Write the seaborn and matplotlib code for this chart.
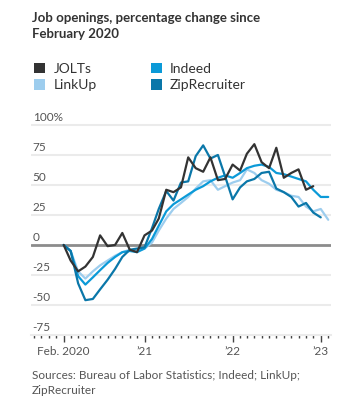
import pandas as pd
import matplotlib
matplotlib.use('Agg')
import matplotlib.pyplot as plt
import matplotlib.dates as mdates
from matplotlib.patches import Patch
import seaborn as sns

# 数据：相对于2020年2月的变化（%），按月
start_month = '2020-02-01'
jolts = [0, -13, -22, -18, -10, 8, -1, 0, 10, -4, -6, 8, 12, 22, 46, 44, 48, 73, 64, 61,
         73, 54, 55, 67, 62, 76, 84, 69, 64, 81, 56, 60, 63, 46, 49]
linkup = [0, -5, -22, -28, -22, -17, -13, -9, -6, -4, -5, -3, 2, 12, 22, 30, 35, 40, 47, 53,
          54, 46, 49, 52, 54, 63, 60, 54, 51, 46, 44, 41, 40, 32, 28, 30, 21]
indeed = [0, -5, -26, -33, -27, -21, -15, -10, -6, -5, -6, -3, 5, 16, 28, 34, 38, 42, 46, 49,
          53, 56, 58, 56, 60, 64, 66, 67, 65, 60, 59, 57, 55, 53, 46, 40, 40]
zip_rec = [0, -5, -32, -46, -45, -37, -29, -20, -10, -4, -3, -2, 14, 30, 45, 37, 52, 53, 74, 83,
           72, 75, 57, 38, 48, 53, 55, 60, 61, 47, 44, 40, 32, 35, 27, 23]

series_names = ['JOLTs', 'LinkUp', 'Indeed', 'ZipRecruiter']
series_values = [jolts, linkup, indeed, zip_rec]
colors = ['#333333', '#9dcdee', '#0b9ad8', '#0a77a9']

y_ticks = [100, 75, 50, 25, 0, -25, -50, -75]
y_labels = ['100%', '75', '50', '25', '0', '-25', '-50', '-75']
x_tick_dates = ['2020-02-01', '2021-01-01', '2022-01-01', '2023-01-01']
x_labels = ['Feb. 2020', '\u201921', '\u201922', '\u201923']

# 拼成长表
frames = []
for name, vals in zip(series_names, series_values):
    frames.append(pd.DataFrame({
        'date': pd.date_range(start_month, periods=len(vals), freq='MS'),
        'value': vals,
        'series': name,
    }))
df = pd.concat(frames, ignore_index=True)

sns.set_style('white')
plt.rcParams['font.family'] = ['Lato', 'DejaVu Sans']

fig = plt.figure(figsize=(3.53, 4.08), dpi=100)
ax = fig.add_axes([0.088, 0.179, 0.85, 0.5206])

# 网格线和零线
for t in y_ticks:
    if t == 0:
        ax.axhline(0, color='#8c8c8c', lw=2.0, zorder=1)
    elif t != -75:
        ax.axhline(t, color='#ebebeb', lw=1.5, zorder=0)

palette = dict(zip(series_names, colors))
draw_order = ['LinkUp', 'Indeed', 'ZipRecruiter', 'JOLTs']
sns.lineplot(data=df, x='date', y='value', hue='series', hue_order=draw_order,
             palette=palette, linewidth=1.6, legend=False, ax=ax, zorder=3)

ax.set_ylim(-75, 102)
ax.set_xlim(pd.Timestamp('2019-09-19'), pd.Timestamp('2023-02-13'))
ax.set_xlabel('')
ax.set_ylabel('')
for s in ['top', 'right', 'left']:
    ax.spines[s].set_visible(False)
ax.spines['bottom'].set_color('#ebebeb')
ax.spines['bottom'].set_linewidth(1.5)

# y轴标签放在网格线上方
ax.set_yticks([])
for t, lab in zip(y_ticks, y_labels):
    ax.text(0.005, t + 1.5, lab, transform=ax.get_yaxis_transform(),
            ha='left', va='bottom', fontsize=8.5, color='#555555')

# x轴刻度
ax.set_xticks(pd.to_datetime(x_tick_dates))
ax.set_xticklabels(x_labels)
ax.xaxis.set_minor_locator(mdates.MonthLocator())
ax.tick_params(axis='x', which='major', length=5, width=1, color='#444444',
               labelsize=8.5, labelcolor='#555555', pad=3, direction='out', bottom=True)
ax.tick_params(axis='x', which='minor', length=2.5, width=1, color='#444444', bottom=True)

# 标题
fig.text(0.09, 0.97, 'Job openings, percentage change since\nFebruary 2020',
         ha='left', va='top', fontsize=9.5, fontweight='bold', color='#333333',
         linespacing=1.35)

# 图例
handles = [Patch(facecolor=palette[n], edgecolor='none') for n in series_names]
fig.legend(handles, series_names, ncol=2, loc='upper left',
           bbox_to_anchor=(0.062, 0.877), frameon=False, fontsize=10,
           handlelength=0.8, handleheight=0.8, handletextpad=0.6,
           columnspacing=3.85, labelspacing=0.3, labelcolor='#333333')

# 来源
fig.text(0.09, 0.093, 'Sources: Bureau of Labor Statistics; Indeed; LinkUp;\nZipRecruiter',
         ha='left', va='top', fontsize=8.5, color='#555555', linespacing=1.45)

fig.savefig('out.png', dpi=100)
